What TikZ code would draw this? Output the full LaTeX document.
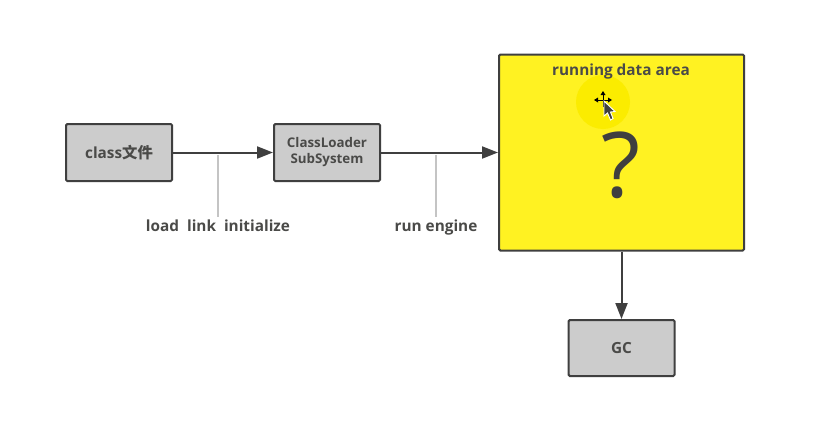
\documentclass[tikz,border=0pt]{standalone}
\usepackage{fontspec}
\setmainfont{Open Sans}
\newfontfamily\cjkfont{Noto Sans CJK SC}
\usetikzlibrary{arrows.meta}
\definecolor{boxline}{HTML}{3F3F3F}
\definecolor{boxfill}{HTML}{CCCCCC}
\definecolor{txt}{HTML}{4A4A48}
\definecolor{yel}{HTML}{FFF222}
\definecolor{halo}{HTML}{FBEC00}
\definecolor{leader}{HTML}{C4C4C4}
\tikzset{
  x=0.75pt,y=-0.75pt,
  boxnode/.style={draw=boxline,line width=1.5pt,fill=boxfill,rounded corners=1pt,minimum width=79.5pt,minimum height=42.75pt,inner sep=0pt,align=center,text=txt,font=\bfseries\fontsize{10pt}{12pt}\selectfont},
  arrowline/.style={draw=boxline,line width=1.5pt,-{Triangle[length=12pt,width=9pt]}},
  leaderline/.style={draw=leader,line width=0.9pt},
  lbl/.style={text=txt,inner sep=0pt,anchor=base,font=\bfseries\fontsize{11.5pt}{13pt}\selectfont}
}
\begin{document}
\begin{tikzpicture}
\useasboundingbox (0,0) rectangle (838,421);
\fill[white] (0,0) rectangle (838,421);
\node[boxnode,font=\bfseries\fontsize{11.5pt}{13pt}\selectfont] (cls) at (119,152.5) {class{\cjkfont 文件}};
\node[boxnode] (loader) at (327,152.5) {ClassLoader\\SubSystem};
\node[boxnode,fill=yel,minimum width=183.75pt,minimum height=147pt] (area) at (621.5,152.5) {};
\node[boxnode,minimum height=42pt,font=\bfseries\fontsize{11.5pt}{13pt}\selectfont] (gc) at (621.5,348) {GC};
\draw[arrowline] (cls.east) -- (loader.west);
\draw[arrowline] (loader.east) -- (area.west);
\draw[arrowline] (area.south) -- (gc.north);
\coordinate (a1) at (218,155);
\coordinate (a2) at (436,155);
\node[lbl] (l1) at (218,231.5) {load\hspace{6pt}link\hspace{6pt}initialize};
\node[lbl] (l2) at (436,231.5) {run engine};
\draw[leaderline] (a1) -- (218,217);
\draw[leaderline] (a2) -- (436,217);
\fill[halo] (603,102) circle[radius=27];
\node[lbl] (title) at (621,75.5) {running data area};
\node[text=boxline,inner sep=0pt,font=\fontsize{68pt}{70pt}\selectfont] (q) at (621,165) {?};
% cursor: move cross and pointer
\draw[black,line width=0.6pt] (596,100) -- (610,100) (603,93) -- (603,107);
\fill[black] (603,91)--(600.5,95)--(605.5,95)--cycle (594,100)--(598,97.5)--(598,102.5)--cycle (612,100)--(608,97.5)--(608,102.5)--cycle;
\draw[white,line width=0.7pt,fill=black!75] (604,101)--(604,116)--(607.5,113)--(610.5,120)--(613,118.5)--(610.5,112)--(615,111.5)--cycle;
\end{tikzpicture}
\end{document}
